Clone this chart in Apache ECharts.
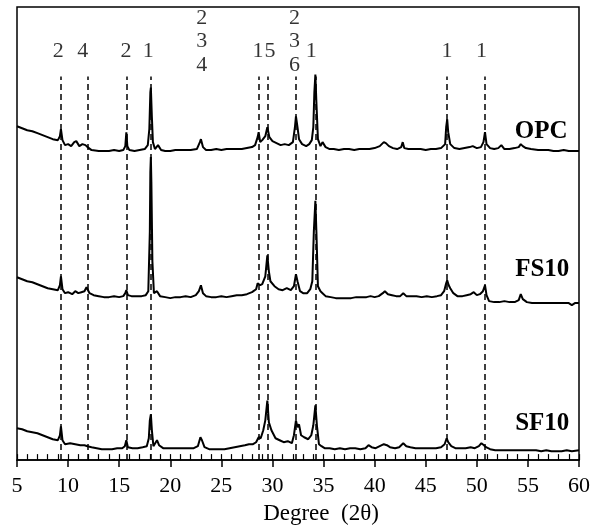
<!DOCTYPE html>
<html><head><meta charset="utf-8">
<script src="https://cdn.jsdelivr.net/npm/echarts@6/dist/echarts.min.js"></script>
<style>html,body{margin:0;padding:0;background:#fff}#c{width:599px;height:530px}</style>
</head><body><div id="c"></div>
<script>
// 2θ (degree) and relative intensity (arbitrary units, offset traces)
const opc = [[5.0,336],[5.5,334],[6.0,332],[6.5,331],[7.0,329],[7.5,327],[8.0,325],[8.5,323],[9.0,322],[9.2,326],[9.3,333],[9.45,322],[9.7,317],[10.0,318],[10.3,316],[10.6,320],[10.8,321],[11.1,316],[11.4,318],[11.7,317],[11.9,315],[12.3,312],[13.0,311],[13.5,311],[14.0,311],[14.5,312],[15.0,311],[15.4,312],[15.6,316],[15.7,330],[15.8,316],[16.0,312],[16.5,311],[17.0,312],[17.5,313],[17.8,317],[17.95,333],[18.05,370],[18.1,375],[18.2,345],[18.3,320],[18.5,313],[18.8,317],[19.1,312],[19.5,311],[20.0,311],[20.5,312],[21.0,312],[21.5,312],[22.0,312],[22.6,313],[22.9,320],[23.0,323],[23.2,315],[23.5,312],[24.0,312],[24.5,313],[25.0,312],[25.5,313],[26.0,313],[26.5,313],[27.0,313],[27.5,314],[28.0,315],[28.3,317],[28.55,325],[28.65,330],[28.8,320],[29.0,322],[29.3,326],[29.5,335],[29.7,325],[30.0,321],[30.4,319],[30.8,317],[31.2,318],[31.6,317],[32.0,320],[32.2,335],[32.3,346],[32.45,335],[32.6,323],[32.9,318],[33.3,316],[33.6,318],[33.85,322],[34.0,335],[34.1,370],[34.2,388],[34.3,360],[34.45,323],[34.7,316],[34.9,320],[35.2,315],[35.6,313],[36.0,313],[36.5,312],[37.0,313],[37.5,313],[38.0,312],[38.5,313],[39.0,313],[39.5,313],[40.0,314],[40.5,316],[40.9,320],[41.1,319],[41.4,316],[41.8,314],[42.2,313],[42.6,315],[42.75,320],[42.9,314],[43.3,313],[44.0,313],[44.5,313],[45.0,312],[45.5,313],[46.0,313],[46.5,314],[46.9,318],[47.0,335],[47.1,343],[47.2,330],[47.4,318],[47.8,314],[48.3,313],[48.8,314],[49.3,315],[49.6,316],[50.0,314],[50.4,315],[50.65,320],[50.8,330],[50.95,318],[51.3,314],[51.7,313],[52.1,314],[52.4,317],[52.7,313],[53.2,313],[53.7,314],[54.1,315],[54.3,318],[54.5,316],[54.8,314],[55.3,313],[56.0,312],[56.5,312],[57.0,312],[57.5,311],[58.0,311],[58.5,312],[59.0,311],[59.5,311],[60.0,311]];
const fs10 = [[5.0,184],[5.5,182],[6.0,180],[6.5,179],[7.0,177],[7.5,175],[8.0,173],[8.5,172],[9.0,171],[9.2,176],[9.3,185],[9.45,172],[9.7,168],[10.0,169],[10.4,167],[10.7,170],[11.0,168],[11.3,169],[11.6,170],[11.8,174],[11.9,176],[12.1,168],[12.5,166],[13.0,165],[13.5,164],[14.0,164],[14.5,165],[15.0,164],[15.4,165],[15.6,168],[15.7,171],[15.85,166],[16.2,165],[16.7,165],[17.2,165],[17.6,166],[17.85,170],[18.0,230],[18.05,290],[18.1,305],[18.15,280],[18.25,200],[18.4,168],[18.7,170],[19.0,165],[19.5,164],[20.0,163],[20.5,164],[21.0,164],[21.5,165],[22.0,164],[22.5,166],[22.8,170],[23.0,176],[23.2,168],[23.5,165],[24.0,164],[24.5,164],[25.0,165],[25.5,164],[26.0,165],[26.5,166],[27.0,166],[27.5,167],[28.0,169],[28.4,172],[28.55,178],[28.65,180],[28.8,176],[29.0,177],[29.3,185],[29.5,206],[29.65,190],[29.8,180],[30.2,175],[30.6,172],[31.0,171],[31.4,173],[31.8,171],[32.1,175],[32.3,187],[32.45,180],[32.7,170],[33.0,168],[33.4,168],[33.7,172],[33.9,180],[34.05,230],[34.2,261],[34.3,230],[34.45,175],[34.7,170],[34.9,168],[35.2,165],[35.7,164],[36.2,163],[36.7,163],[37.2,163],[37.7,163],[38.2,164],[38.7,164],[39.2,164],[39.6,165],[40.0,164],[40.4,165],[40.8,168],[41.0,170],[41.3,167],[41.7,166],[42.1,165],[42.5,165],[42.8,168],[43.1,165],[43.6,165],[44.1,165],[44.6,164],[45.1,165],[45.6,164],[46.1,165],[46.5,166],[46.8,170],[47.0,178],[47.1,181],[47.25,176],[47.4,173],[47.7,168],[48.1,165],[48.6,165],[49.0,166],[49.4,167],[49.7,169],[50.0,166],[50.3,167],[50.6,170],[50.8,176],[50.95,166],[51.2,160],[51.7,159],[52.2,159],[52.7,160],[53.2,159],[53.7,159],[54.1,161],[54.3,167],[54.5,162],[54.9,159],[55.4,158],[56.0,158],[56.5,158],[57.0,158],[57.5,158],[58.0,158],[58.5,158],[59.0,158],[59.3,156],[59.6,158],[60.0,158]];
const sf10 = [[5.0,32],[5.5,31],[6.0,29],[6.5,28],[7.0,27],[7.5,25],[8.0,23],[8.5,21],[9.0,20],[9.2,25],[9.3,34],[9.45,20],[9.7,16],[10.2,17],[10.7,16],[11.2,15],[11.6,15],[11.9,14],[12.3,13],[12.8,12],[13.3,11],[13.8,11],[14.3,11],[14.8,12],[15.3,12],[15.55,14],[15.7,20],[15.85,13],[16.3,12],[16.8,12],[17.3,13],[17.7,14],[17.9,22],[18.0,40],[18.1,46],[18.2,30],[18.35,14],[18.7,20],[18.9,15],[19.3,12],[19.8,12],[20.3,12],[20.8,12],[21.3,12],[21.8,12],[22.3,12],[22.7,14],[22.95,23],[23.1,20],[23.35,13],[23.8,11],[24.3,11],[24.8,11],[25.3,11],[25.8,12],[26.3,13],[26.8,14],[27.3,15],[27.7,16],[28.1,16],[28.4,18],[28.65,23],[28.85,22],[29.1,30],[29.3,40],[29.5,60],[29.65,38],[29.9,30],[30.3,22],[30.7,20],[31.1,18],[31.5,19],[31.9,17],[32.1,25],[32.3,40],[32.45,33],[32.6,36],[32.8,25],[33.1,23],[33.5,21],[33.8,25],[34.0,35],[34.2,55],[34.35,35],[34.55,16],[34.8,14],[35.1,12],[35.6,12],[36.1,11],[36.6,12],[37.1,11],[37.6,12],[38.1,12],[38.6,11],[39.1,12],[39.4,15],[39.7,13],[40.1,12],[40.5,14],[40.9,16],[41.2,15],[41.5,13],[42.0,12],[42.4,13],[42.8,17],[43.1,14],[43.5,13],[44.0,12],[44.5,12],[45.0,12],[45.5,12],[46.0,12],[46.5,13],[46.85,16],[47.05,22],[47.2,18],[47.5,14],[47.9,12],[48.4,12],[48.9,12],[49.4,13],[49.8,12],[50.2,14],[50.45,17],[50.7,15],[50.9,13],[51.3,11],[51.8,10],[52.3,10],[52.8,10],[53.3,10],[53.8,10],[54.3,10],[54.8,10],[55.3,10],[55.8,10],[56.3,9],[56.8,10],[57.3,9],[57.8,9],[58.3,9],[58.8,10],[59.3,9],[60.0,10]];
const seriesNames = ['OPC', 'FS10', 'SF10'];
// reference (phase) lines
const refLines = [9.3, 11.9, 15.7, 18.1, 28.65, 29.5, 32.27, 34.2, 47.1, 50.8];
const refTop = 386;
// phase annotations
const annoDeg = [9.04, 11.43, 15.67, 17.85, 23.07, 28.58, 29.76, 32.15, 33.8, 47.09, 50.47];
const annoText = ['2', '4', '2', '1', '2\n3\n4', '1', '5', '2\n3\n6', '1', '1', '1'];

const SERIF = "'Liberation Serif','Times New Roman',serif";
const chart = echarts.init(document.getElementById('c'));

const lineStyle = { color: '#000', width: 2 };
const labelPos = { OPC: [56.3, 330.5], FS10: [56.4, 191.5], SF10: [56.4, 36.5] };

function traceSeries(name, data, extra) {
  return Object.assign({
    name: name, type: 'line', data: data, showSymbol: false, symbol: 'none',
    lineStyle: lineStyle, silent: true, animation: false, z: 3,
    markPoint: {
      symbol: 'rect', symbolSize: 0, silent: true, animation: false,
      data: [{ coord: labelPos[name], value: name }],
      label: { show: true, position: 'inside', formatter: name, color: '#000',
        fontFamily: SERIF, fontWeight: 'bold', fontSize: 25 }
    }
  }, extra || {});
}

const option = {
  backgroundColor: '#fff',
  animation: false,
  grid: { left: 17, right: 20, top: 7, bottom: 67, show: true, borderColor: '#000', borderWidth: 1.5, containLabel: false },
  xAxis: [
    { type: 'value', min: 5, max: 60, interval: 5, position: 'bottom',
      name: 'Degree  (2θ)', nameLocation: 'middle', nameGap: 40,
      nameTextStyle: { fontFamily: SERIF, fontSize: 23, color: '#000', padding: [0, 0, 0, 46] },
      axisLine: { show: true, lineStyle: { color: '#000', width: 1.5 } },
      axisTick: { show: true, length: 7, lineStyle: { color: '#000', width: 1.5 } },
      axisLabel: { fontFamily: SERIF, fontSize: 22, color: '#000', margin: 15 },
      splitLine: { show: false } },
    { type: 'value', min: 5, max: 60, interval: 1, position: 'bottom', offset: 0,
      axisLine: { show: false },
      axisTick: { show: true, inside: true, length: 6, lineStyle: { color: '#000', width: 1.2 } },
      axisLabel: { show: false }, splitLine: { show: false } }
  ],
  yAxis: { type: 'value', min: 0, max: 456, show: false },
  series: [
    traceSeries('OPC', opc, {
      markLine: {
        silent: true, symbol: 'none', animation: false,
        label: { show: false },
        lineStyle: { color: '#000', width: 1.5, type: [6, 4] },
        data: refLines.map(d => [{ coord: [d, 0] }, { coord: [d, refTop] }])
      }
    }),
    traceSeries('FS10', fs10),
    traceSeries('SF10', sf10),
    { type: 'scatter', symbolSize: 0, silent: true, z: 4,
      data: annoDeg.map((d, i) => [d, annoText[i].indexOf('\n') >= 0 ? 421.5 : 411.5, annoText[i]]),
      label: { show: true, position: 'inside', formatter: p => p.data[2], color: '#000',
        fontFamily: SERIF, fontSize: 22, lineHeight: 23.5 } }
  ]
};
chart.setOption(option);
</script>
</body></html>
